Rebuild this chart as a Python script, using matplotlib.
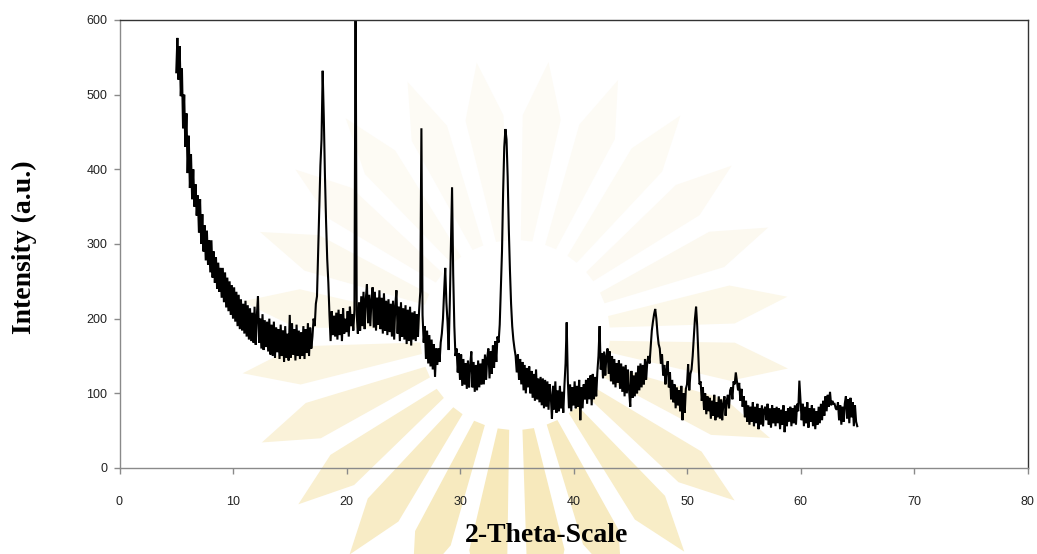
import numpy as np
import matplotlib
matplotlib.use("Agg")
import matplotlib.pyplot as plt
from matplotlib.patches import Polygon
from matplotlib.colors import to_rgb

# XRD scan: 2-theta from 5.0 to 65.0 deg, step 0.1 deg
scan_start = 5.0
scan_step = 0.1

intensity_05_15 = [
    530, 576, 520, 565, 498, 535, 455, 500, 430, 475,
    395, 445, 375, 420, 360, 400, 350, 380, 338, 365,
    315, 360, 300, 340, 290, 325, 278, 318, 272, 305,
    262, 305, 255, 290, 248, 282, 240, 275, 236, 268,
    228, 268, 222, 262, 215, 255, 210, 250, 205, 245,
    200, 242, 196, 236, 190, 232, 186, 226, 184, 220,
    180, 224, 176, 218, 172, 214, 170, 208, 168, 216,
    165, 204, 230, 168, 200, 160, 206, 158, 198, 162,
    196, 156, 200, 152, 192, 150, 196, 148, 188, 155,
    186, 146, 192, 150, 184, 142, 190, 148, 180, 144,
]
intensity_15_25 = [
    205, 148, 194, 152, 186, 144, 192, 150, 184, 146,
    182, 150, 190, 146, 186, 154, 194, 150, 188, 160,
    176, 200, 190, 220, 230, 290, 350, 405, 440, 532,
    470, 392, 330, 280, 248, 205, 170, 210, 178, 204,
    176, 208, 172, 212, 178, 206, 170, 214, 180, 200,
    182, 210, 176, 216, 190, 206, 184, 212, 640, 206,
    180, 222, 184, 230, 190, 236, 186, 226, 246, 194,
    232, 190, 226, 242, 188, 236, 184, 228, 192, 238,
    186, 228, 180, 234, 184, 224, 178, 226, 182, 220,
    176, 224, 172, 218, 238, 180, 216, 170, 222, 176,
]
intensity_25_35 = [
    214, 172, 218, 166, 212, 170, 216, 164, 208, 172,
    210, 170, 206, 176, 212, 236, 455, 205, 168, 190,
    146, 184, 140, 178, 136, 172, 132, 166, 122, 160,
    138, 160, 142, 168, 180, 200, 236, 268, 222, 196,
    158, 220, 300, 376, 260, 190, 150, 160, 128, 154,
    118, 152, 110, 146, 112, 140, 106, 144, 108, 138,
    156, 108, 142, 102, 138, 104, 144, 108, 140, 112,
    146, 112, 152, 118, 148, 160, 120, 156, 126, 164,
    134, 170, 142, 176, 168, 192, 240, 290, 370, 430,
    454, 440, 390, 320, 265, 220, 190, 172, 160, 150,
]
intensity_35_45 = [
    128, 152, 118, 146, 112, 142, 104, 138, 100, 134,
    108, 136, 100, 130, 94, 126, 90, 132, 92, 120,
    88, 122, 84, 120, 80, 118, 82, 116, 78, 112,
    96, 66, 110, 78, 116, 74, 104, 76, 110, 80,
    102, 74, 110, 140, 195, 118, 80, 112, 76, 108,
    84, 116, 80, 110, 82, 118, 64, 108, 80, 112,
    92, 118, 86, 120, 92, 124, 84, 126, 92, 122,
    96, 128, 150, 190, 132, 154, 120, 156, 124, 150,
    160, 126, 156, 116, 150, 112, 146, 108, 140, 114,
    144, 106, 140, 102, 136, 96, 138, 100, 132, 104,
]
intensity_45_55 = [
    82, 130, 94, 124, 96, 128, 100, 137, 104, 140,
    108, 138, 112, 146, 118, 142, 150, 140, 162, 184,
    196, 206, 213, 200, 180, 166, 160, 140, 152, 124,
    138, 112, 132, 143, 108, 128, 92, 118, 88, 112,
    80, 108, 84, 104, 76, 110, 64, 100, 74, 106,
    112, 139, 104, 126, 132, 150, 176, 200, 216, 190,
    150, 112, 116, 90, 108, 78, 100, 72, 96, 76,
    94, 66, 90, 70, 98, 64, 88, 68, 96, 66,
    92, 64, 86, 96, 70, 90, 98, 80, 104, 108,
    92, 116, 112, 128, 116, 104, 114, 90, 106, 82,
]
intensity_55_65 = [
    96, 68, 90, 62, 84, 58, 82, 62, 88, 56,
    82, 60, 86, 52, 80, 58, 84, 56, 78, 82,
    64, 86, 58, 80, 54, 84, 60, 80, 56, 82,
    60, 80, 52, 78, 58, 84, 48, 76, 56, 80,
    62, 82, 56, 80, 60, 84, 58, 86, 76, 117,
    90, 64, 86, 56, 82, 60, 88, 54, 80, 62,
    84, 56, 80, 52, 76, 58, 82, 60, 86, 64,
    90, 70, 96, 76, 98, 82, 102, 84, 90, 86,
    86, 80, 78, 88, 64, 84, 58, 82, 62, 86,
    96, 66, 92, 60, 94, 68, 88, 56, 84, 62,
    56,
]

intensity = np.array(intensity_05_15 + intensity_15_25 + intensity_25_35
                     + intensity_35_45 + intensity_45_55 + intensity_55_65,
                     dtype=float)
two_theta = np.round(scan_start + scan_step * np.arange(intensity.size), 2)

x_ticks = [0, 10, 20, 30, 40, 50, 60, 70, 80]
y_ticks = [0, 100, 200, 300, 400, 500, 600]

W, H = 1037, 554
fig = plt.figure(figsize=(W / 100, H / 100), dpi=100)
fig.patch.set_facecolor("white")

# faint sunburst emblem behind the plot (pixel coordinates, y down)
bg = fig.add_axes([0, 0, 1, 1], zorder=0)
bg.set_xlim(0, W)
bg.set_ylim(H, 0)
bg.axis("off")
cx, cy = 515, 335
pale = np.array(to_rgb("#fdfbf5"))
gold = np.array(to_rgb("#f7e9bb"))
n_rays = 24
for k in range(n_rays):
    a = np.deg2rad(k * 360 / n_rays + 7)
    down = (np.sin(a) + 1) / 2          # 1 toward the bottom of the page
    col = pale + (gold - pale) * down ** 2.0
    r_in, r_mid, r_out = 95, 220, 275
    w_in, w_mid = np.deg2rad(3.5), np.deg2rad(5.0)
    pts = [
        (cx + r_in * np.cos(a - w_in), cy + r_in * np.sin(a - w_in)),
        (cx + r_mid * np.cos(a - w_mid), cy + r_mid * np.sin(a - w_mid)),
        (cx + r_out * np.cos(a), cy + r_out * np.sin(a)),
        (cx + r_mid * np.cos(a + w_mid), cy + r_mid * np.sin(a + w_mid)),
        (cx + r_in * np.cos(a + w_in), cy + r_in * np.sin(a + w_in)),
    ]
    bg.add_patch(Polygon(pts, closed=True, facecolor=col, edgecolor="none"))

ax = fig.add_axes([119.5 / W, 1 - 468 / H, 908 / W, 448 / H], zorder=1)
ax.set_facecolor("none")
ax.plot(two_theta, intensity, color="black", lw=1.5, solid_joinstyle="miter")

ax.set_xlim(0, 80)
ax.set_ylim(0, 600)
ax.set_xticks(x_ticks)
ax.set_yticks(y_ticks)

for side in ("left", "bottom"):
    ax.spines[side].set_color("#8a8a8a")
    ax.spines[side].set_linewidth(1.0)
for side in ("top", "right"):
    ax.spines[side].set_color("#333333")
    ax.spines[side].set_linewidth(1.0)

ax.tick_params(axis="both", direction="out", length=4.5, width=1.0,
               color="#8a8a8a", labelcolor="#222222")
ax.tick_params(axis="x", pad=15.5)
ax.tick_params(axis="y", pad=4.3)
for lab in ax.get_xticklabels() + ax.get_yticklabels():
    lab.set_fontfamily("Liberation Sans")
    lab.set_fontsize(9)

fig.text(546.5 / W, 1 - 542 / H, "2-Theta-Scale", ha="center", va="baseline",
         fontsize=20, fontweight="bold", family="Liberation Serif", zorder=2)
fig.text(24.5 / W, 1 - 247.5 / H, "Intensity (a.u.)", rotation=90,
         ha="center", va="center", fontsize=20, fontweight="bold",
         family="Liberation Serif", zorder=2)

fig.savefig("out.png", dpi=100, facecolor="white")
